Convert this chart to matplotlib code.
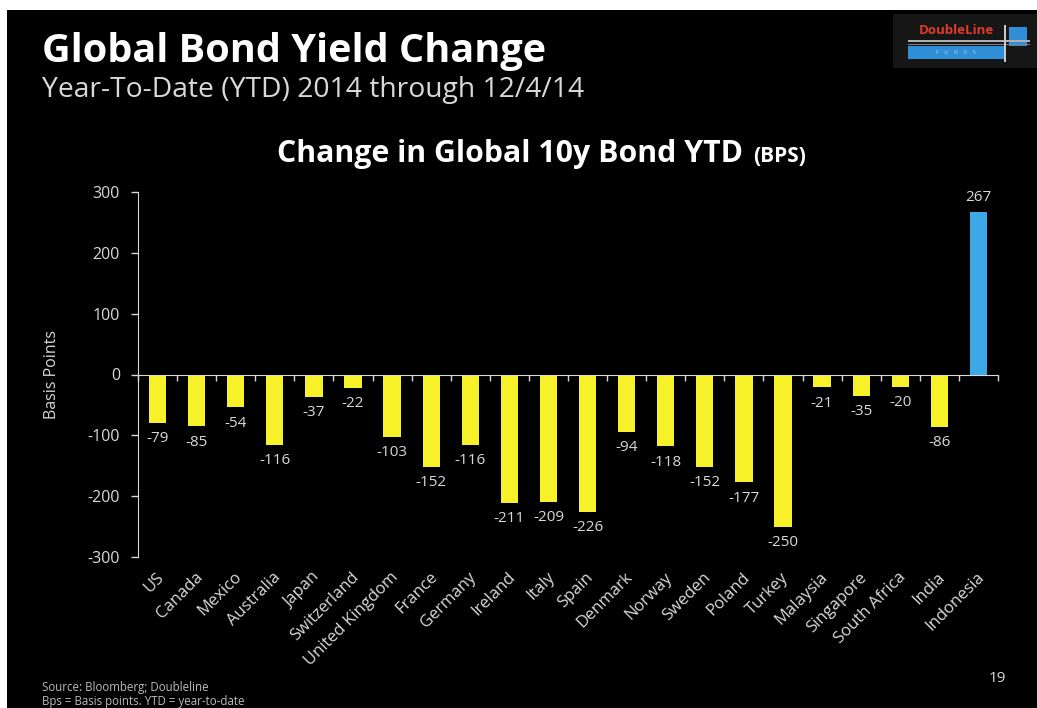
import numpy as np
from matplotlib import pyplot as plt
from matplotlib.patches import Rectangle

plt.rcParams['font.family'] = ['Open Sans', 'DejaVu Sans']
plt.rcParams['axes.unicode_minus'] = False

countries = ['US', 'Canada', 'Mexico', 'Australia', 'Japan', 'Switzerland',
             'United Kingdom', 'France', 'Germany', 'Ireland', 'Italy', 'Spain',
             'Denmark', 'Norway', 'Sweden', 'Poland', 'Turkey', 'Malaysia',
             'Singapore', 'South Africa', 'India', 'Indonesia']
change_bps = [-79, -85, -54, -116, -37, -22, -103, -152, -116, -211, -209, -226,
              -94, -118, -152, -177, -250, -21, -35, -20, -86, 267]

W, H = 1037, 708
txt = '#d9d9d9'
yellow = '#f6f128'
blue = '#3ca9e6'

fig = plt.figure(figsize=(W / 100, H / 100), dpi=100, facecolor='white')
# black slide background (thin white margin top/left as in the screenshot)
fig.patches.append(Rectangle((7 / W, 0), 1, (H - 10) / H, transform=fig.transFigure,
                             facecolor='black', edgecolor='none', zorder=-10))

# slide titles
fig.text(42 / W, 1 - 62 / H, 'Global Bond Yield Change', color='white',
         fontsize=28.5, fontweight='bold')
fig.text(42 / W, 1 - 97 / H, 'Year-To-Date (YTD) 2014 through 12/4/14', color=txt,
         fontsize=20.3)
fig.text(42 / W, 1 - 691 / H, 'Source: Bloomberg; Doubleline', color='#bbbbbb', fontsize=8.3)
fig.text(42 / W, 1 - 705 / H, 'Bps = Basis points. YTD = year-to-date', color='#bbbbbb', fontsize=8.3)
fig.text(997 / W, 1 - 682 / H, '19', color=txt, fontsize=11, ha='center')

# DoubleLine logo
logo = [
    ((893, 14), 144, 54, '#161616'),
    ((908, 46), 97, 13, '#2f8fd6'),
    ((1009, 27), 18, 19, '#2f8fd6'),
    ((908, 40), 122, 2, '#b0b0b0'),
    ((908, 43.5), 122, 1.5, '#808080'),
    ((1004, 25), 2, 37, '#c8c8c8'),
]
for (x0, y0), w, h, c in logo:
    fig.patches.append(Rectangle((x0 / W, 1 - (y0 + h) / H), w / W, h / H,
                                 transform=fig.transFigure, facecolor=c, edgecolor='none'))
fig.text(956 / W, 1 - 31 / H, 'DoubleLine', color='#e03a2a', fontsize=9.5,
         fontweight='bold', ha='center', va='center')
fig.text(956 / W, 1 - 52.5 / H, 'F    U    N    D    S', color='#a8d0f0', fontsize=4,
         ha='center', va='center')

# chart
ax = fig.add_axes([138 / W, 1 - 557 / H, 860 / W, 365 / H])
ax.set_facecolor('black')
x = np.arange(len(countries))
colors = [blue if v > 0 else yellow for v in change_bps]
ax.bar(x, change_bps, width=0.44, color=colors, zorder=2)

for xi, v in zip(x, change_bps):
    if v < 0:
        ax.annotate(str(v), (xi, v), xytext=(0, -6), textcoords='offset points',
                    ha='center', va='top', color=txt, fontsize=11)
    else:
        ax.annotate(str(v), (xi, v), xytext=(0, 5), textcoords='offset points',
                    ha='center', va='bottom', color=txt, fontsize=11)

ax.set_xlim(-0.5, len(countries) - 0.5)
ax.set_ylim(-300, 300)
ax.set_yticks([-300, -200, -100, 0, 100, 200, 300])
ax.tick_params(axis='y', colors=txt, labelsize=11.5, length=5, width=1, pad=8)

for s in ['top', 'right']:
    ax.spines[s].set_visible(False)
ax.spines['left'].set_color(txt)
ax.spines['bottom'].set_position(('data', 0))
ax.spines['bottom'].set_color(txt)
ax.spines['bottom'].set_zorder(3)

# category boundary ticks on the zero line, names at the bottom of the chart
ax.set_xticks(np.arange(len(countries) + 1) - 0.5)
ax.set_xticklabels([])
ax.tick_params(axis='x', colors=txt, length=4, width=1, direction='out')
for xi, name in zip(x, countries):
    ax.text(xi - 0.05, -320, name, rotation=45, ha='right', va='top',
            rotation_mode='anchor', color=txt, fontsize=12)

ax.set_ylabel('Basis Points', color=txt, fontsize=11.5, labelpad=20)

t = fig.text(277 / W, 1 - 162 / H, 'Change in Global 10y Bond YTD', color='white',
             fontsize=21.8, fontweight='bold')
fig.canvas.draw()
bb = t.get_window_extent()
fig.text((bb.x1 + 10) / W, 1 - 162 / H, '(BPS)', color='white', fontsize=15,
         fontweight='bold')

fig.savefig('out.png', dpi=100, facecolor=fig.get_facecolor())
